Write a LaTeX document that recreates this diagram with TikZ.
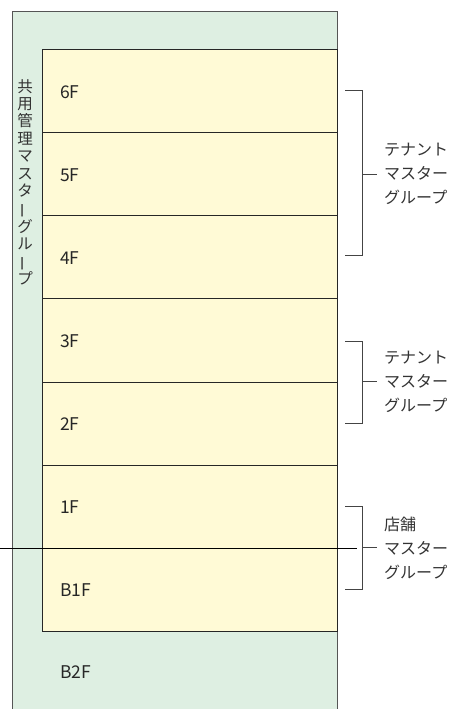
\documentclass[tikz,border=0pt]{standalone}
\usepackage{fontspec}
\setmainfont{Noto Sans CJK JP}
\definecolor{bgreen}{HTML}{DEEFE2}
\definecolor{byellow}{HTML}{FFFAD6}
\definecolor{lgray}{HTML}{555555}
\definecolor{bgray}{HTML}{444444}
\tikzset{
  floorbox/.style={draw=black!85, line width=0.8pt, fill=byellow, minimum width=295pt, minimum height=83.14pt, inner sep=0pt, anchor=north west},
  floorlabel/.style={anchor=west, inner sep=0pt, font=\fontsize{17.5}{19}\selectfont, text=black!85},
  grouplabel/.style={anchor=west, inner sep=0pt, align=left, font=\fontsize{16}{24}\selectfont, text=black!80},
  bracketline/.style={draw=bgray, line width=0.8pt},
}
\begin{document}
\begin{tikzpicture}[x=1pt, y=-1pt]
\useasboundingbox (0,0) rectangle (455,709);
% outer green
\path[fill=bgreen, draw=lgray, line width=0.8pt] (12,720) -- (12,11) -- (337,11) -- (337,720);
\node[anchor=north, inner sep=0pt, align=center, font=\fontsize{15.5}{17.4}\selectfont, text=black!80] (common) at (25,79)
 {共\\用\\管\\理\\マ\\ス\\タ\\\rotatebox[origin=c]{90}{ー}\\グ\\ル\\\rotatebox[origin=c]{90}{ー}\\プ};
% floors
\node[floorbox] (f6) at (42,49) {};
\node[floorbox] (f5) at (42,132.14) {};
\node[floorbox] (f4) at (42,215.28) {};
\node[floorbox] (f3) at (42,298.42) {};
\node[floorbox] (f2) at (42,381.56) {};
\node[floorbox] (f1) at (42,464.7) {};
\node[floorbox] (fb1) at (42,547.84) {};
\node[floorlabel] (l6) at (60,92) {6F};
\node[floorlabel] (l5) at (60,175) {5F};
\node[floorlabel] (l4) at (60,258) {4F};
\node[floorlabel] (l3) at (60,341) {3F};
\node[floorlabel] (l2) at (60,424) {2F};
\node[floorlabel] (l1) at (60,507) {1F};
\node[floorlabel] (lb1) at (60,590) {B1F};
\node[floorlabel] (lb2) at (60,672) {B2F};
% ground line
\coordinate (g0) at (0,548);
\coordinate (g1) at (357,548);
\draw[line width=1pt, black] (g0) -- (g1);
% bracket 1
\coordinate (a1) at (345,90);
\coordinate (a2) at (362,90);
\coordinate (a3) at (362,255);
\coordinate (a4) at (345,255);
\coordinate (am) at (362,174);
\coordinate (at) at (377,174);
\draw[bracketline] (a1) -- (a2) -- (a3) -- (a4);
\draw[bracketline] (am) -- (at);
\node[grouplabel] (t1) at (384,174) {テナント\\マスター\\グループ};
% bracket 2
\coordinate (b1) at (345,341);
\coordinate (b2) at (362,341);
\coordinate (b3) at (362,423);
\coordinate (b4) at (345,423);
\coordinate (bm) at (362,381);
\coordinate (bt) at (377,381);
\draw[bracketline] (b1) -- (b2) -- (b3) -- (b4);
\draw[bracketline] (bm) -- (bt);
\node[grouplabel] (t2) at (384,382) {テナント\\マスター\\グループ};
% bracket 3
\coordinate (c1) at (345,506);
\coordinate (c2) at (362,506);
\coordinate (c3) at (362,589);
\coordinate (c4) at (345,589);
\coordinate (cm) at (362,547);
\coordinate (ct) at (377,547);
\draw[bracketline] (c1) -- (c2) -- (c3) -- (c4);
\draw[bracketline] (cm) -- (ct);
\node[grouplabel] (t3) at (384,548) {店舗\\マスター\\グループ};
\end{tikzpicture}
\end{document}
